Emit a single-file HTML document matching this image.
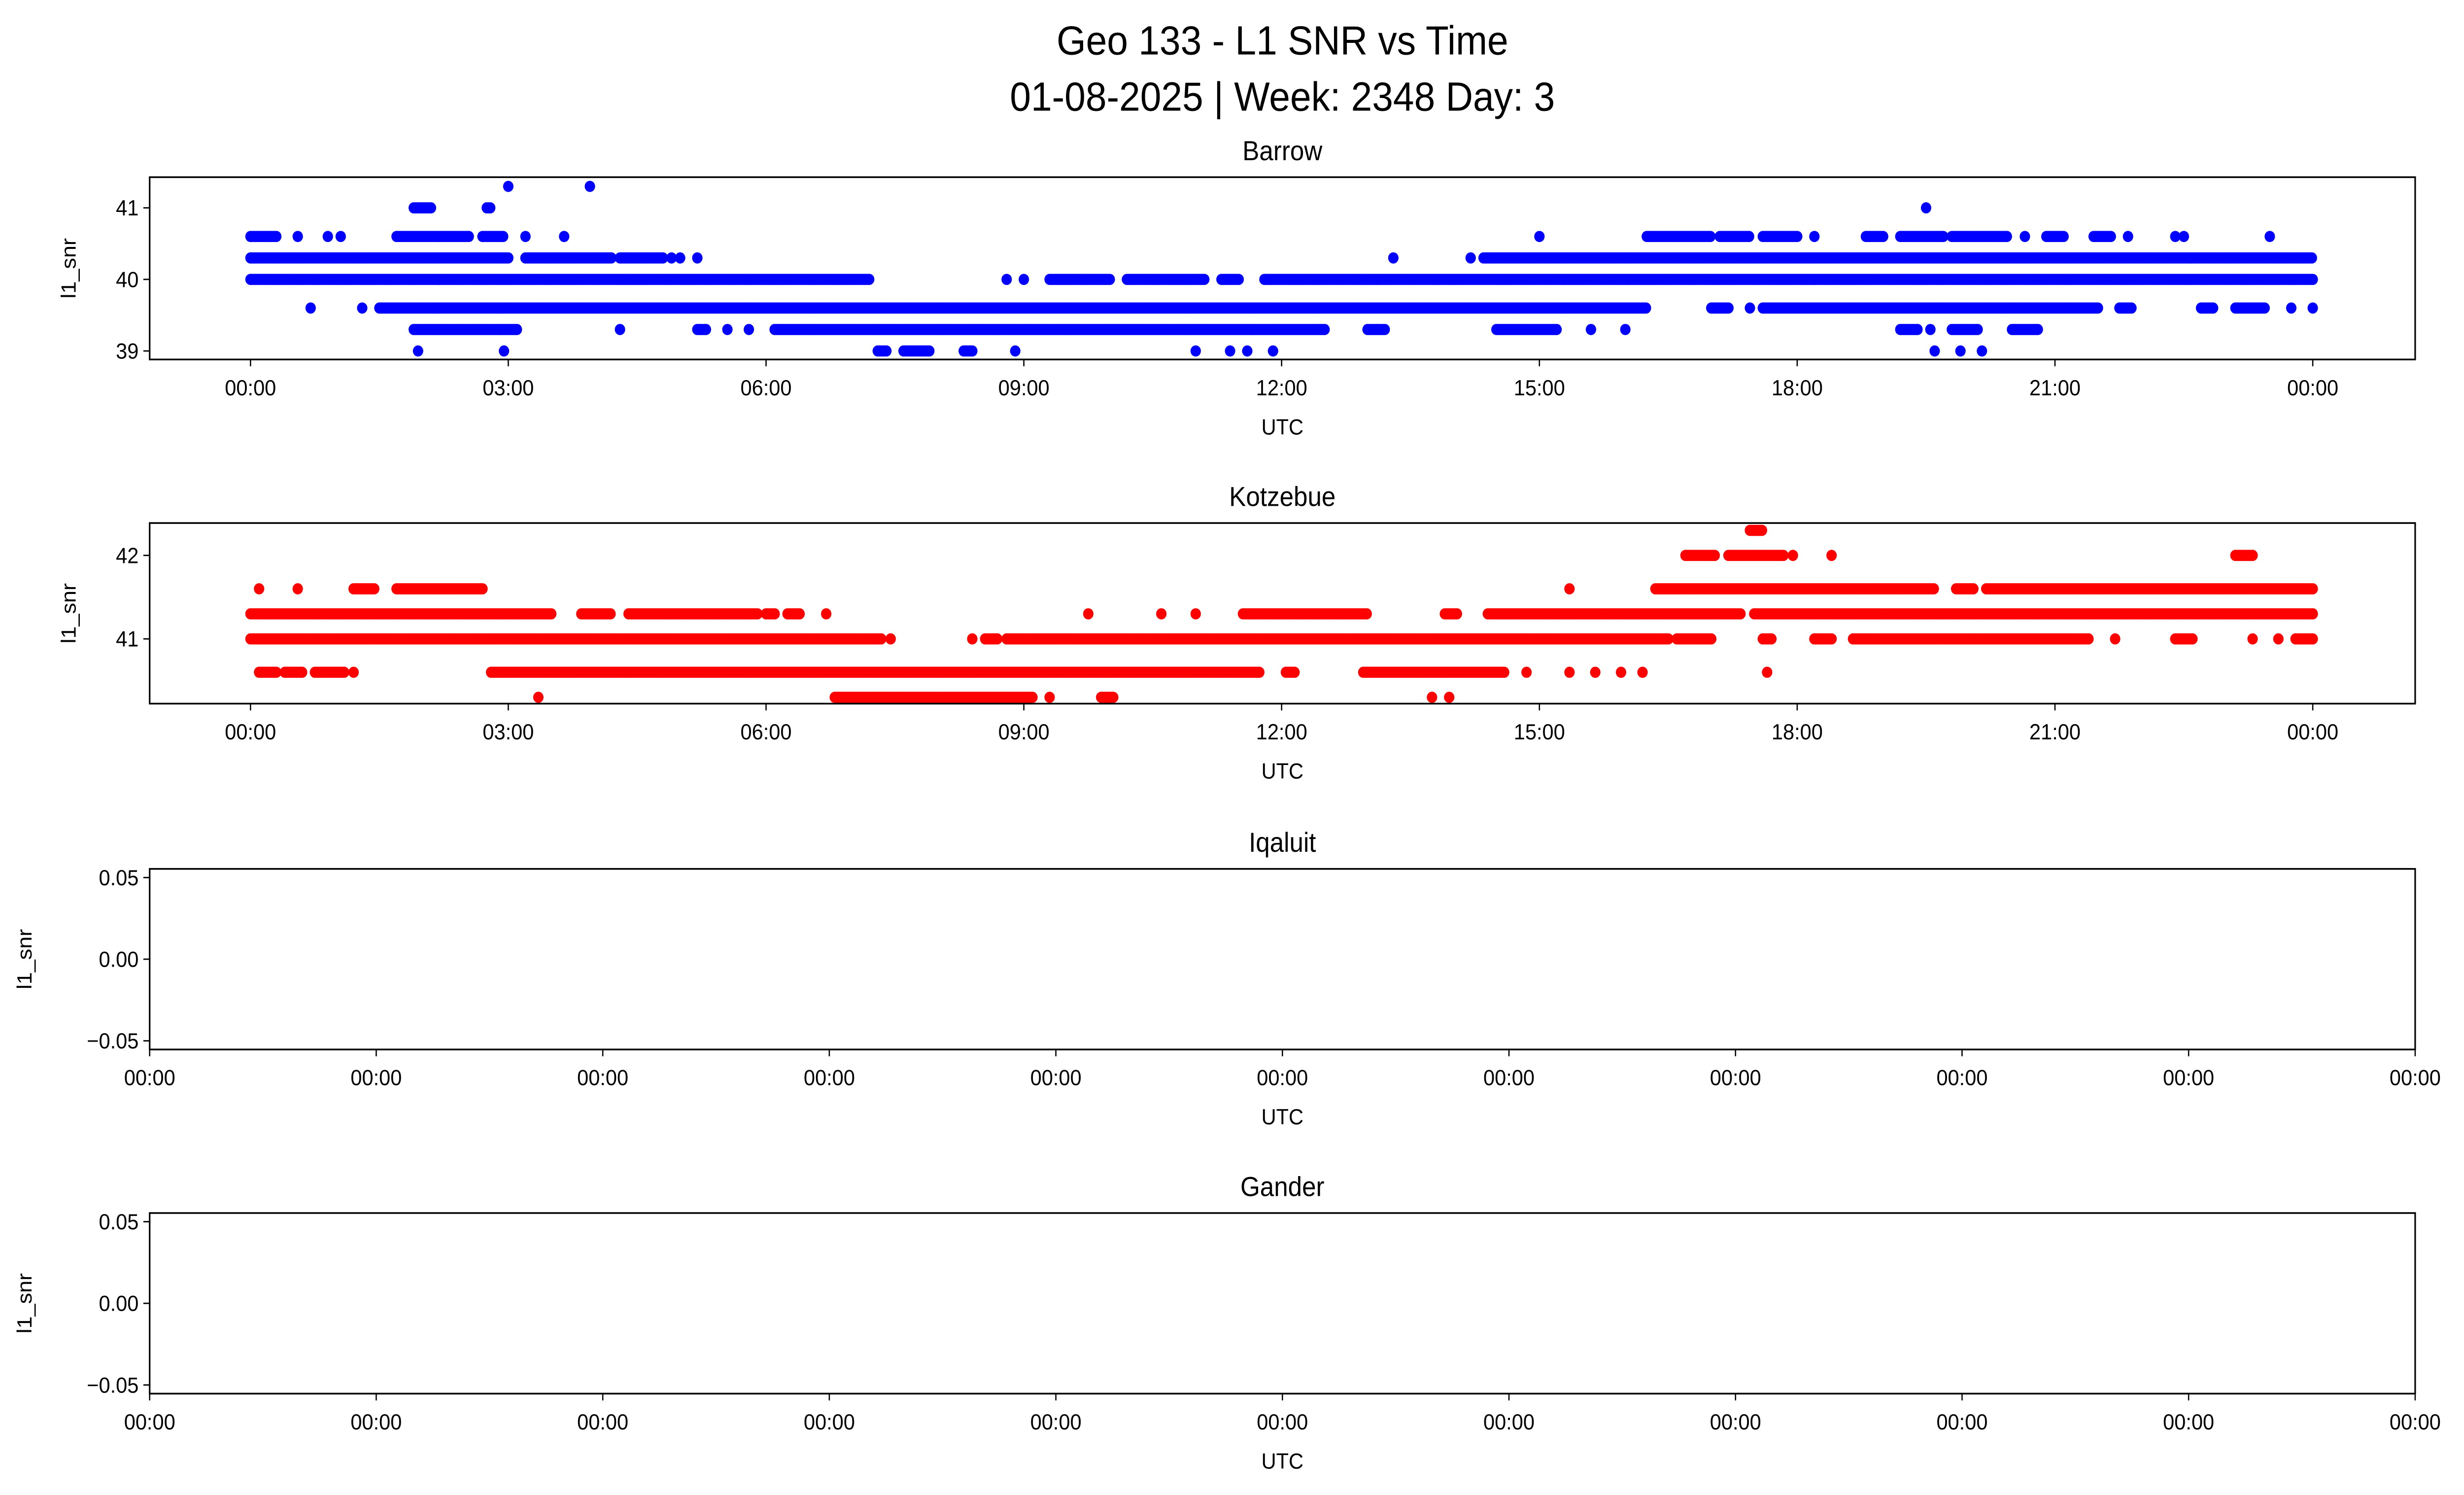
<!DOCTYPE html>
<html><head><meta charset="utf-8">
<style>
html,body{margin:0;padding:0;background:#fff;overflow:hidden;width:100%;height:100%;}
svg{display:block;width:100vw;height:100vh;font-family:"Liberation Sans","DejaVu Sans",sans-serif;}
</style></head>
<body>
<svg id="chart" xmlns="http://www.w3.org/2000/svg" viewBox="0 0 1564 877.5" preserveAspectRatio="none">
<rect width="1564" height="877.5" fill="#fff"/>
<text x="814" y="32" text-anchor="middle" font-size="24">Geo 133 - L1 SNR vs Time</text>
<text x="814" y="65" text-anchor="middle" font-size="24">01-08-2025 | Week: 2348 Day: 3</text>
</svg>
<script>
// ---- data (hours UTC): runs [start,end] and isolated points per SNR level ----
const barrowLevels = [40.0, 40.3, 40.6, 39.6, 39.3, 39.0, 41.0, 41.3];
const barrowRuns = [
  [[0,7.2],[9.3,10.0],[10.2,11.1],[11.3,11.5],[11.8,24]],
  [[0,3.0],[3.2,4.2],[4.3,4.8],[14.35,24]],
  [[0,0.3],[1.7,2.55],[2.7,2.95],[16.25,17.0],[17.1,17.45],[17.6,18.0],[18.8,19.0],[19.2,19.7],[19.8,20.45],[20.9,21.1],[21.45,21.65]],
  [[1.5,16.25],[17.0,17.2],[17.6,21.5],[21.75,21.9],[22.7,22.85],[23.1,23.45]],
  [[1.9,3.1],[5.2,5.3],[6.1,12.5],[13.0,13.2],[14.5,15.2],[19.2,19.4],[19.8,20.1],[20.5,20.8]],
  [[7.3,7.4],[7.6,7.9],[8.3,8.4]],
  [[1.9,2.1],[2.75,2.8]],
  []
];
const barrowPoints = [
  [8.8,9.0],
  [4.9,5.0,5.2,13.3,14.2],
  [0.55,0.9,1.05,3.2,3.65,15.0,18.2,20.65,21.85,22.4,22.5,23.5],
  [0.7,1.3,17.45,23.75,24.0],
  [4.3,5.55,5.8,15.6,16.0,19.55],
  [1.95,2.95,8.9,11.0,11.4,11.6,11.9,19.6,19.9,20.15],
  [19.5],
  [3.0,3.95]
];
const kotzLevels = [41.3, 41.0, 40.6, 40.3, 41.6, 42.0, 42.3];
const kotzRuns = [
  [[0,3.5],[3.85,4.2],[4.4,5.9],[6.0,6.1],[6.25,6.4],[11.55,13.0],[13.9,14.05],[14.4,17.35],[17.5,24]],
  [[0,7.35],[8.55,8.7],[8.8,16.5],[16.6,17.0],[17.6,17.7],[18.2,18.4],[18.65,21.4],[22.4,22.6],[23.8,24]],
  [[0.1,0.3],[0.4,0.6],[0.75,1.1],[2.8,11.75],[12.05,12.15],[12.95,14.6]],
  [[6.8,9.1],[9.9,10.05]],
  [[1.2,1.45],[1.7,2.7],[16.35,19.6],[19.85,20.05],[20.2,24]],
  [[16.7,17.05],[17.2,17.85],[23.1,23.3]],
  [[17.45,17.6]]
];
const kotzPoints = [
  [6.7,9.75,10.6,11.0],
  [7.45,8.4,21.7,23.3,23.6],
  [1.2,14.85,15.35,15.65,15.95,16.2,17.65],
  [3.35,9.3,13.75,13.95],
  [0.1,0.55,15.35],
  [17.95,18.4],
  []
];
const timeTickLabels = ["00:00","03:00","06:00","09:00","12:00","15:00","18:00","21:00","00:00"];
const emptyTickLabels = ["00:00","00:00","00:00","00:00","00:00","00:00","00:00","00:00","00:00","00:00","00:00"];

const NS = "http://www.w3.org/2000/svg";
const svg = document.getElementById('chart');
function mk(tag, attrs, parent){
  const e = document.createElementNS(NS, tag);
  for (const k in attrs) e.setAttribute(k, attrs[k]);
  (parent||svg).appendChild(e);
  return e;
}
const X0 = 95, X1 = 1533;
function xHour(h){ return 159 + h * (1309/24); }

function panel(top, bottom, title, yTicks, yFn, ylabelX, name){
  const g = mk('g', {});
  
  
  const t = mk('text', {x:(X0+X1)/2, y:top-10, 'text-anchor':'middle', 'font-size':16}, g);
  t.textContent = title;
  
  
  yTicks.forEach(v => {
    const y = yFn(v.v);
    mk('line', {x1:X0-4, x2:X0, y1:y, y2:y, stroke:'#000', 'stroke-width':0.8}, g);
    const tx = mk('text', {x:X0-7, y:y+4.5, 'text-anchor':'end', 'font-size':13}, g);
    tx.textContent = v.l;
    
    
  });
  const yl = mk('text', {x:ylabelX, y:(top+bottom)/2, 'text-anchor':'middle', 'font-size':13, transform:`rotate(-90 ${ylabelX} ${(top+bottom)/2})`}, g);
  yl.textContent = 'l1_snr';
  
  
  const xl = mk('text', {x:(X0+X1)/2, y:bottom+44, 'text-anchor':'middle', 'font-size':13}, g);
  xl.textContent = 'UTC';
  
  
  return g;
}
function xTicks(g, bottom, labels, posFn){
  labels.forEach((l,i) => {
    const x = posFn(i);
    mk('line', {x1:x, x2:x, y1:bottom, y2:bottom+4, stroke:'#000', 'stroke-width':0.8}, g);
    const tx = mk('text', {x:x, y:bottom+21, 'text-anchor':'middle', 'font-size':13}, g);
    tx.textContent = l;
    
    
  });
}
function frame(g, top, bottom){
  const r = mk('rect', {x:X0, y:top, width:X1-X0, height:bottom-top, fill:'none', stroke:'#000', 'stroke-width':1}, g);
  
  
}
function scatter(g, levels, runs, points, yFn, color, name){
  const sg = mk('g', {fill:color}, g);
  
  
  levels.forEach((lv, i) => {
    const y = yFn(lv);
    runs[i].forEach(r => {
      for (let h = r[0]; h <= r[1] + 1e-9; h += 0.02) mk('circle', {cx:xHour(h).toFixed(2), cy:y, r:3.3}, sg);
    });
    points[i].forEach(h => mk('circle', {cx:xHour(h), cy:y, r:3.3}, sg));
  });
}

// Barrow
(function(){
  const top=104,bottom=211;
  const yFn = v => 164 - (v-40)*42;
  const g = panel(top,bottom,'Barrow',[{v:39,l:'39'},{v:40,l:'40'},{v:41,l:'41'}],yFn,48,'barrow');
  scatter(g, barrowLevels, barrowRuns, barrowPoints, yFn, '#0000ff', 'barrow');
  frame(g,top,bottom);
  xTicks(g,bottom,timeTickLabels,i=>xHour(i*3));
})();
// Kotzebue
(function(){
  const top=307,bottom=413;
  const yFn = v => 375 - (v-41)*49;
  const g = panel(top,bottom,'Kotzebue',[{v:41,l:'41'},{v:42,l:'42'}],yFn,48,'kotzebue');
  scatter(g, kotzLevels, kotzRuns, kotzPoints, yFn, '#ff0000', 'kotzebue');
  frame(g,top,bottom);
  xTicks(g,bottom,timeTickLabels,i=>xHour(i*3));
})();
// Empty panels
[[510,616,'Iqaluit','iqaluit'],[712,818,'Gander','gander']].forEach(p => {
  const top=p[0],bottom=p[1];
  const mid=(top+bottom)/2, span=(bottom-top)/2/0.0553;
  const yFn = v => mid - v*span;
  const g = panel(top,bottom,p[2],[{v:0.05,l:'0.05'},{v:0,l:'0.00'},{v:-0.05,l:'−0.05'}],yFn,20,p[3]);
  frame(g,top,bottom);
  xTicks(g,bottom,emptyTickLabels,i=>X0+i*(X1-X0)/10);
});
</script>
</body></html>
